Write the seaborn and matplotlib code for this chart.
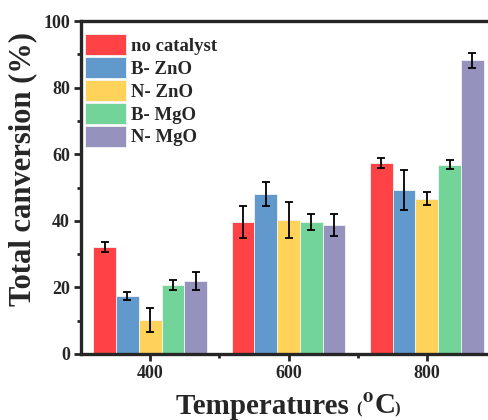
import matplotlib
matplotlib.use("Agg")
import matplotlib.pyplot as plt
import seaborn as sns
import pandas as pd
from matplotlib.ticker import MultipleLocator
from matplotlib.offsetbox import TextArea, HPacker, AnchoredOffsetbox

temperatures = ["400", "600", "800"]
catalysts = ["no catalyst", "B- ZnO", "N- ZnO", "B- MgO", "N- MgO"]
colors = ["#FF4245", "#6199CD", "#FFD35A", "#72D499", "#9592BE"]

no_catalyst = [32.1, 39.6, 57.3]
b_zno = [17.4, 48.0, 49.2]
n_zno = [10.2, 40.2, 46.6]
b_mgo = [20.6, 39.6, 56.9]
n_mgo = [22.0, 38.7, 88.2]

no_catalyst_err = [1.6, 4.8, 1.5]
b_zno_err = [1.1, 3.6, 6.0]
n_zno_err = [3.6, 5.4, 2.0]
b_mgo_err = [1.5, 2.5, 1.4]
n_mgo_err = [2.7, 3.4, 2.2]

values = [no_catalyst, b_zno, n_zno, b_mgo, n_mgo]
errors = [no_catalyst_err, b_zno_err, n_zno_err, b_mgo_err, n_mgo_err]

rows = []
for c, v, e in zip(catalysts, values, errors):
    for t, vv, ee in zip(temperatures, v, e):
        rows.append({"Temperature": t, "Catalyst": c, "Conversion": vv, "Err": ee})
df = pd.DataFrame(rows)

sns.set_style("ticks")
plt.rcParams["font.family"] = ["Liberation Serif", "DejaVu Serif"]
plt.rcParams["font.weight"] = "bold"
plt.rcParams["mathtext.fontset"] = "stix"

fig = plt.figure(figsize=(4.88, 4.20), dpi=100)
ax = fig.add_axes([81/488, 66/420, 415/488, 333/420])

sns.barplot(data=df, x="Temperature", y="Conversion", hue="Catalyst",
            order=temperatures, hue_order=catalysts, palette=colors,
            errorbar=None, width=0.82, edgecolor="#f4f4f4", linewidth=0.6,
            saturation=1, ax=ax)

# error bars positioned from the drawn bars
patches = [p for p in ax.patches if p.get_height() > 0]
for i, c in enumerate(catalysts):
    sub = df[df["Catalyst"] == c]
    bars = patches[i*3:(i+1)*3]
    xs = [b.get_x() + b.get_width()/2 for b in bars]
    ax.errorbar(xs, sub["Conversion"].values, yerr=sub["Err"].values, fmt="none",
                ecolor="black", elinewidth=1.3, capsize=3.2, capthick=1.3, zorder=5)

ax.set_ylim(0, 100)
ax.set_xlim(-0.5, 2.5)
ax.yaxis.set_major_locator(MultipleLocator(20))
ax.yaxis.set_minor_locator(MultipleLocator(10))
ax.set_xticks([0, 1, 2])
ax.set_xticks([0.5, 1.5], minor=True)

for s in ["left", "bottom", "top"]:
    ax.spines[s].set_linewidth(2.4)
ax.spines["right"].set_visible(False)
ax.tick_params(axis="both", which="major", direction="out", length=5, width=2.0,
               labelsize=13, pad=3)
ax.tick_params(axis="both", which="minor", direction="out", length=3, width=2.0)
for lab in ax.get_xticklabels() + ax.get_yticklabels():
    lab.set_fontweight("bold")

ax.set_ylabel("Total canversion (%)", fontsize=22, fontweight="bold")
ax.yaxis.set_label_coords(-0.105, 0.555)
ax.set_xlabel("")

# x-axis title with small parentheses and superscript o
parts = [
    TextArea("Temperatures ", textprops=dict(fontsize=21, fontweight="bold")),
    TextArea("(", textprops=dict(fontsize=12, fontweight="bold")),
    TextArea(r"$^{\mathbf{o}}$C", textprops=dict(fontsize=21, fontweight="bold")),
    TextArea(")", textprops=dict(fontsize=12, fontweight="bold")),
]
box = HPacker(children=parts, align="baseline", pad=0, sep=0)
anch = AnchoredOffsetbox(loc="center", child=box, pad=0, borderpad=0, frameon=False,
                         bbox_to_anchor=(288/488, 1 - 406/420),
                         bbox_transform=fig.transFigure)
fig.add_artist(anch)

leg = ax.legend(loc="upper left", bbox_to_anchor=(85/488, 1 - 34/420),
                bbox_transform=fig.transFigure, frameon=False,
                fontsize=13.5, handlelength=2.2, handleheight=1.35,
                labelspacing=0.1, handletextpad=0.27, borderaxespad=0,
                borderpad=0)
for t in leg.get_texts():
    t.set_fontweight("bold")

fig.savefig("out.png", dpi=100)
